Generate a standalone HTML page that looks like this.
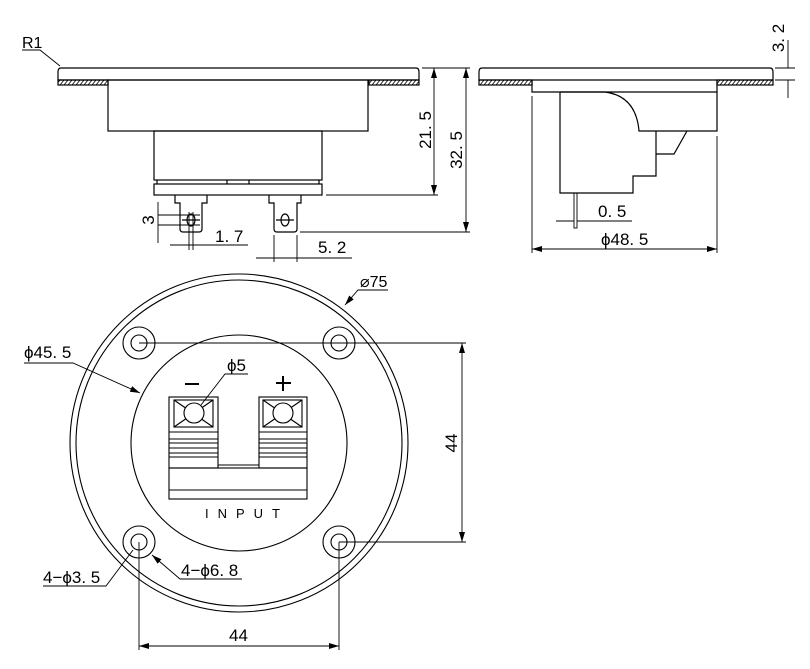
<!DOCTYPE html>
<html><head><meta charset="utf-8"><style>html,body{margin:0;padding:0;background:#fff}svg{display:block}</style></head>
<body>
<svg width="810" height="669" viewBox="0 0 810 669" xmlns="http://www.w3.org/2000/svg" font-family="Liberation Sans, DejaVu Sans, sans-serif">
<defs>
<pattern id="h" width="4" height="5" patternUnits="userSpaceOnUse"><path d="M0,5 L4,0" stroke="#000" stroke-width="0.8"/></pattern>
<marker id="a" viewBox="0 0 10 6" refX="10" refY="3" markerWidth="10" markerHeight="6" orient="auto-start-reverse" markerUnits="userSpaceOnUse"><path d="M0,0 L10,3 L0,6 z" fill="#000"/></marker>
</defs>
<g fill="none" stroke="#000" stroke-width="1.2">
<path d="M61,68 H416 Q419,68 419,72 V80 H58 V72 Q58,68 61,68 Z"/>
<rect x="58" y="80" width="50" height="5" fill="url(#h)"/>
<rect x="369" y="80" width="50" height="5" fill="url(#h)"/>
<rect x="108" y="80" width="260" height="51"/>
<rect x="154" y="131" width="168" height="49"/>
<path d="M157,180 V184 M319,180 V184 M227,180 V184 M249,180 V184"/>
<rect x="154" y="184" width="168" height="11"/>
<path d="M175,195 V203 H180 V229 Q180,232 183,232 H199 Q202,232 202,229 V203 H207 V195"/>
<path d="M269,195 V203 H274 V229 Q274,232 277,232 H294 Q297,232 297,229 V203 H301 V195"/>
<ellipse cx="191" cy="220" rx="4" ry="6"/><path d="M182,220 H200"/>
<ellipse cx="285" cy="220" rx="4" ry="6"/><path d="M276,220 H294"/>
</g>
<g fill="none" stroke="#000" stroke-width="0.9">
<path d="M422,68 H470 M326,195 H438 M300,232 H470"/>
<path d="M434,68 V195" marker-start="url(#a)" marker-end="url(#a)"/>
<path d="M466,68 V232" marker-start="url(#a)" marker-end="url(#a)"/>
<path d="M158,202 V243 M158,215 H200 M158,225 H200"/>
<path d="M189,212 V250 M193,212 V250 M170,245 H248"/>
<path d="M274,235 V262 M297,235 V262 M256,258 H352"/>
<path d="M22,50 H40 L60,66"/>
</g>
<g font-size="17">
<text x="22" y="48" font-size="16">R1</text>
<text x="215" y="242">1. 7</text>
<text x="318" y="253">5. 2</text>
<text transform="translate(154,220) rotate(-90)" text-anchor="middle">3</text>
<text transform="translate(431,130) rotate(-90)" text-anchor="middle">21. 5</text>
<text transform="translate(462,150) rotate(-90)" text-anchor="middle">32. 5</text>
<text transform="translate(784,38) rotate(-90)" text-anchor="middle">3. 2</text>
<text x="598" y="217">0. 5</text>
<text x="601" y="245">ϕ48. 5</text>
</g>
<g fill="none" stroke="#000" stroke-width="1.2">
<path d="M482,68 H770 Q773,68 773,72 V80 H479 V72 Q479,68 482,68 Z"/>
<rect x="479" y="80" width="53" height="5" fill="url(#h)"/>
<rect x="717" y="80" width="56" height="5" fill="url(#h)"/>
<path d="M532,80 V92 H717 V80"/>
<path d="M560,92 H605 Q636,96 639,131 H717 V92"/>
<path d="M560,92 V193 H633 V176 H656 V131"/>
<path d="M656,154 H674 L687,131"/>
<rect x="574" y="193" width="3" height="35" stroke-width="0.9"/>
</g>
<g fill="none" stroke="#000" stroke-width="0.9">
<path d="M532,96 V253 M717,136 V253"/>
<path d="M532,249 H717" marker-start="url(#a)" marker-end="url(#a)"/>
<path d="M556,221 H574 M577,221 H632"/>
<path d="M775,68 H795 M775,80 H795 M788,40 V68 M788,80 V98"/>
</g>
<g fill="none" stroke="#000" stroke-width="1.1">
<circle cx="239" cy="443" r="169"/>
<circle cx="239" cy="443" r="163"/>
<circle cx="239" cy="443" r="108"/>
<circle cx="139" cy="343" r="16"/><circle cx="139" cy="343" r="8"/>
<circle cx="339" cy="343" r="16"/><circle cx="339" cy="343" r="8"/>
<circle cx="139" cy="542" r="16"/><circle cx="139" cy="542" r="8"/>
<circle cx="339" cy="542" r="16"/><circle cx="339" cy="542" r="8"/>
<rect x="169" y="397" width="49" height="71"/>
<rect x="174" y="400" width="39" height="27"/>
<path d="M174,400 L213,427 M213,400 L174,427"/>
<circle cx="194" cy="413" r="10" fill="#fff"/>
<path d="M169,432 H218 M169,439 H218 M169,443 H218 M169,448 H218 M169,453 H218 M169,457 H218"/>
<rect x="259" y="397" width="48" height="71"/>
<rect x="263" y="400" width="39" height="27"/>
<path d="M263,400 L302,427 M302,400 L263,427"/>
<circle cx="283" cy="413" r="10" fill="#fff"/>
<path d="M259,432 H307 M259,439 H307 M259,443 H307 M259,448 H307 M259,453 H307 M259,457 H307"/>
<path d="M218,465 H259"/>
<rect x="169" y="468" width="138" height="31"/>
<path d="M169,490 H307"/>
</g>
<g fill="none" stroke="#000" stroke-width="0.9">
<path d="M139,343 H466 M339,542 H466"/>
<path d="M462,343 V542" marker-start="url(#a)" marker-end="url(#a)"/>
<path d="M139,542 V650 M339,542 V650"/>
<path d="M139,646 H339" marker-start="url(#a)" marker-end="url(#a)"/>
<path d="M225,374 H248 L225,374 L201,405"/>
<path d="M24,363 H73 L140,393" marker-end="url(#a)"/>
<path d="M388,290 H358 L345,305" marker-end="url(#a)"/>
<path d="M43,586 H106 L133,550"/>
<path d="M242,579 H180 L152,555" marker-end="url(#a)"/>
<path d="M185,384 H199 M276,383 H291 M283,376 V391" stroke-width="2"/>
</g>
<g font-size="17">
<text x="24" y="358">ϕ45. 5</text>
<text x="227" y="371">ϕ5</text>
<text x="360" y="287" font-size="16">⌀75</text>
<text x="43" y="583">4−ϕ3. 5</text>
<text x="181" y="576">4−ϕ6. 8</text>
<text x="229" y="641">44</text>
<text transform="translate(457,443) rotate(-90)" text-anchor="middle">44</text>
<text x="205" y="518" font-size="13" letter-spacing="9">INPUT</text>
</g>
</svg>
</body></html>
